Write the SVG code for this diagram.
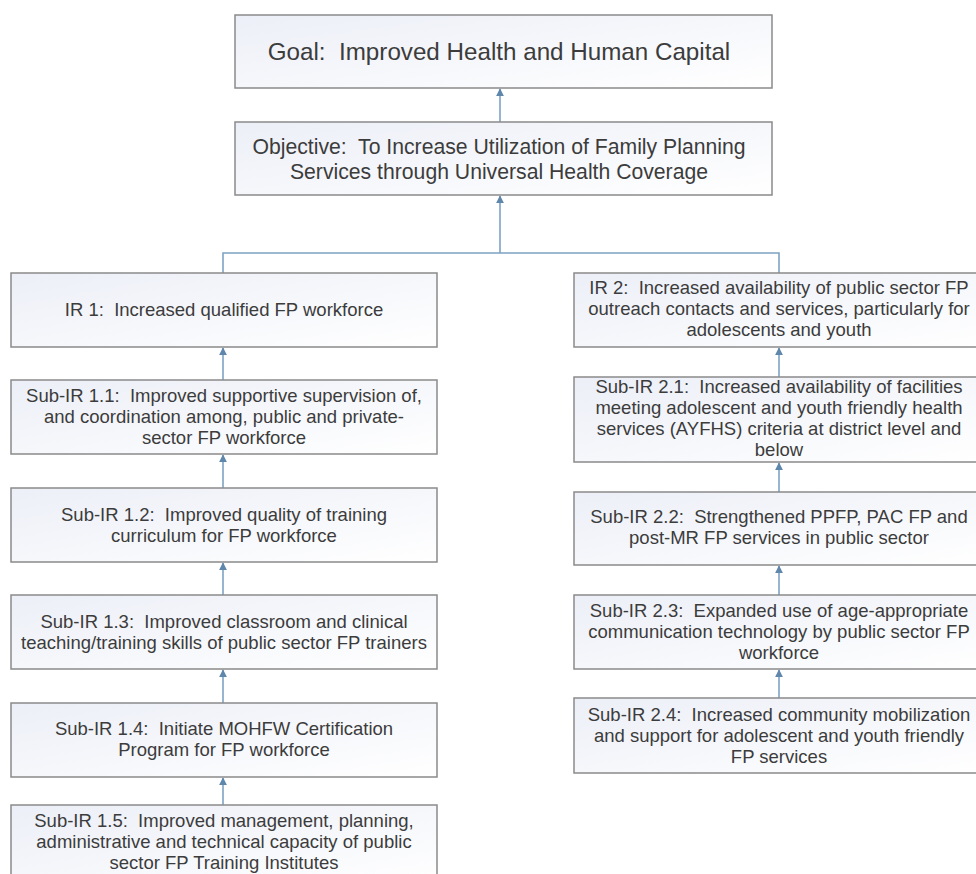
<svg xmlns="http://www.w3.org/2000/svg" width="976" height="874" viewBox="0 0 976 874" xml:space="preserve">
<defs>
<linearGradient id="bg" x1="0" y1="0" x2="1" y2="1">
<stop offset="0" stop-color="#eceff7"/>
<stop offset="1" stop-color="#ffffff"/>
</linearGradient>
<marker id="arr" viewBox="0 0 10 10" refX="9" refY="5" markerWidth="8" markerHeight="8" markerUnits="userSpaceOnUse" orient="auto">
<path d="M0,0 L10,5 L0,10 z" fill="#5f87ab"/>
</marker>
<style>
.box{fill:url(#bg);stroke:#8a8a8a;stroke-width:1.5}
.t{font-family:"Liberation Sans",Arial,sans-serif;fill:#3c3c3c;text-anchor:middle;white-space:pre}
.g{font-size:24.2px}
.o{font-size:21.2px}
.s{font-size:18.5px}
.c{fill:none;stroke:#7ea3c4;stroke-width:1.6}
.a{marker-end:url(#arr)}
</style>
</defs>
<rect width="976" height="874" fill="#ffffff"/>
<g id="connectors">
<path class="c a" d="M500,122 V89"/>
<path class="c a" d="M500,253 V196"/>
<path class="c" d="M223,273 V253 H779 V273"/>
<path class="c a" d="M223,380 V348"/>
<path class="c a" d="M223,488 V455"/>
<path class="c a" d="M223,595 V563"/>
<path class="c a" d="M223,703 V670"/>
<path class="c a" d="M223,805 V778"/>
<path class="c a" d="M779,377 V348"/>
<path class="c a" d="M779,492 V463"/>
<path class="c a" d="M779,595 V566"/>
<path class="c a" d="M779,698 V670"/>
</g>
<g id="goal">
<rect class="box" x="235" y="15" width="537" height="73"/>
<text class="t g" x="499" y="60">Goal:  Improved Health and Human Capital</text>
</g>
<g id="objective">
<rect class="box" x="235" y="122" width="537" height="73"/>
<text class="t o" x="499" y="154">Objective:  To Increase Utilization of Family Planning</text>
<text class="t o" x="499" y="179">Services through Universal Health Coverage</text>
</g>
<g id="ir1">
<rect class="box" x="11" y="273" width="426" height="74"/>
<text class="t s" x="224" y="316">IR 1:  Increased qualified FP workforce</text>
</g>
<g id="sub11">
<rect class="box" x="11" y="380" width="426" height="74"/>
<text class="t s" x="224" y="402">Sub-IR 1.1:  Improved supportive supervision of,</text>
<text class="t s" x="224" y="423">and coordination among, public and private-</text>
<text class="t s" x="224" y="444">sector FP workforce</text>
</g>
<g id="sub12">
<rect class="box" x="11" y="488" width="426" height="74"/>
<text class="t s" x="224" y="521">Sub-IR 1.2:  Improved quality of training</text>
<text class="t s" x="224" y="542">curriculum for FP workforce</text>
</g>
<g id="sub13">
<rect class="box" x="11" y="595" width="426" height="74"/>
<text class="t s" x="224" y="628">Sub-IR 1.3:  Improved classroom and clinical</text>
<text class="t s" x="224" y="649">teaching/training skills of public sector FP trainers</text>
</g>
<g id="sub14">
<rect class="box" x="11" y="703" width="426" height="74"/>
<text class="t s" x="224" y="735">Sub-IR 1.4:  Initiate MOHFW Certification</text>
<text class="t s" x="224" y="756">Program for FP workforce</text>
</g>
<g id="sub15">
<rect class="box" x="11" y="805" width="426" height="80"/>
<text class="t s" x="224" y="827">Sub-IR 1.5:  Improved management, planning,</text>
<text class="t s" x="224" y="848">administrative and technical capacity of public</text>
<text class="t s" x="224" y="869">sector FP Training Institutes</text>
</g>
<g id="ir2">
<rect class="box" x="574" y="273" width="410" height="74"/>
<text class="t s" x="779" y="294">IR 2:  Increased availability of public sector FP</text>
<text class="t s" x="779" y="315">outreach contacts and services, particularly for</text>
<text class="t s" x="779" y="336">adolescents and youth</text>
</g>
<g id="sub21">
<rect class="box" x="574" y="377" width="410" height="85"/>
<text class="t s" x="779" y="393">Sub-IR 2.1:  Increased availability of facilities</text>
<text class="t s" x="779" y="414">meeting adolescent and youth friendly health</text>
<text class="t s" x="779" y="435">services (AYFHS) criteria at district level and</text>
<text class="t s" x="779" y="456">below</text>
</g>
<g id="sub22">
<rect class="box" x="574" y="492" width="410" height="73"/>
<text class="t s" x="779" y="523">Sub-IR 2.2:  Strengthened PPFP, PAC FP and</text>
<text class="t s" x="779" y="544">post-MR FP services in public sector</text>
</g>
<g id="sub23">
<rect class="box" x="574" y="595" width="410" height="74"/>
<text class="t s" x="779" y="617">Sub-IR 2.3:  Expanded use of age-appropriate</text>
<text class="t s" x="779" y="638">communication technology by public sector FP</text>
<text class="t s" x="779" y="659">workforce</text>
</g>
<g id="sub24">
<rect class="box" x="574" y="698" width="410" height="75"/>
<text class="t s" x="779" y="721">Sub-IR 2.4:  Increased community mobilization</text>
<text class="t s" x="779" y="742">and support for adolescent and youth friendly</text>
<text class="t s" x="779" y="763">FP services</text>
</g>
</svg>
